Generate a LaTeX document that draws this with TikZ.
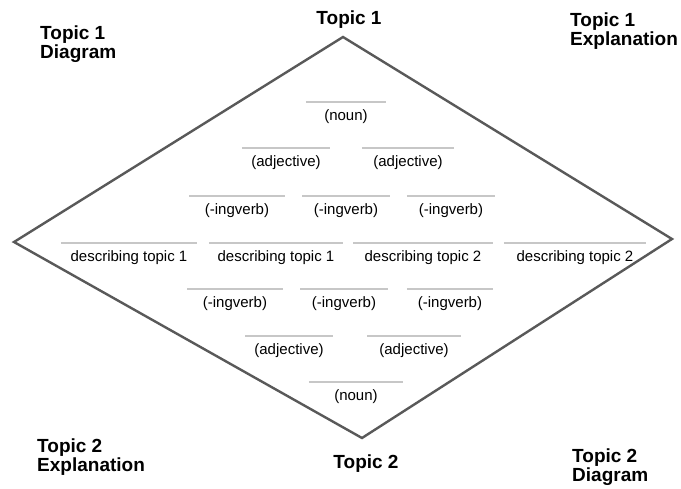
\documentclass[tikz,border=0pt]{standalone}
\usepackage{fontspec}
\setmainfont{Liberation Sans}

\begin{document}
\begin{tikzpicture}[x=1pt, y=-1pt,
  title/.style={font=\fontsize{19}{17}\selectfont\bfseries, align=left, inner sep=0pt},
  blank/.style={anchor=north, minimum width=#1, inner xsep=0pt, inner ysep=7pt,
    text height=11pt, text depth=3pt, font=\fontsize{15}{15}\selectfont},
  rule/.style={draw=black!22, line width=2pt},
  edge/.style={draw=black!65, line width=2.4pt, line join=miter}]
\useasboundingbox (0,0) rectangle (681,488);

%% the diamond
\coordinate (top) at (343,37);
\coordinate (right) at (672,239);
\coordinate (bottom) at (362,438);
\coordinate (left) at (14,242);
\draw[edge] (top) -- (right) -- (bottom) -- (left) -- cycle;

%% headings
\node[title] (t1) at (349,20) {Topic 1};
\node[title, anchor=west] (t1d) at (40,44) {Topic 1\\Diagram};
\node[title, anchor=west] (t1e) at (570,31) {Topic 1\\Explanation};
\node[title, anchor=west] (t2e) at (37,457) {Topic 2\\Explanation};
\node[title] (t2) at (366,464) {Topic 2};
\node[title, anchor=west] (t2d) at (572,467) {Topic 2\\Diagram};

%% upper half
\node[blank=80] (n1) at (346,102) {(noun)};
\node[blank=88] (a1) at (286,148) {(adjective)};
\node[blank=92] (a2) at (408,148) {(adjective)};
\node[blank=95] (v1) at (237,196) {(-ingverb)};
\node[blank=87] (v2) at (346,196) {(-ingverb)};
\node[blank=88] (v3) at (451,196) {(-ingverb)};

%% middle row
\node[blank=136] (d1) at (129,243) {describing topic 1};
\node[blank=134] (d2) at (276,243) {describing topic 1};
\node[blank=139] (d3) at (423,243) {describing topic 2};
\node[blank=142] (d4) at (575,243) {describing topic 2};

%% lower half
\node[blank=95] (w1) at (235,289) {(-ingverb)};
\node[blank=87] (w2) at (344,289) {(-ingverb)};
\node[blank=86] (w3) at (450,289) {(-ingverb)};
\node[blank=87] (b1) at (289,336) {(adjective)};
\node[blank=93] (b2) at (414,336) {(adjective)};
\node[blank=94] (m1) at (356,382) {(noun)};

\foreach \n in {n1,a1,a2,v1,v2,v3,d1,d2,d3,d4,w1,w2,w3,b1,b2,m1}
  \draw[rule] (\n.north west) -- (\n.north east);
\end{tikzpicture}
\end{document}
